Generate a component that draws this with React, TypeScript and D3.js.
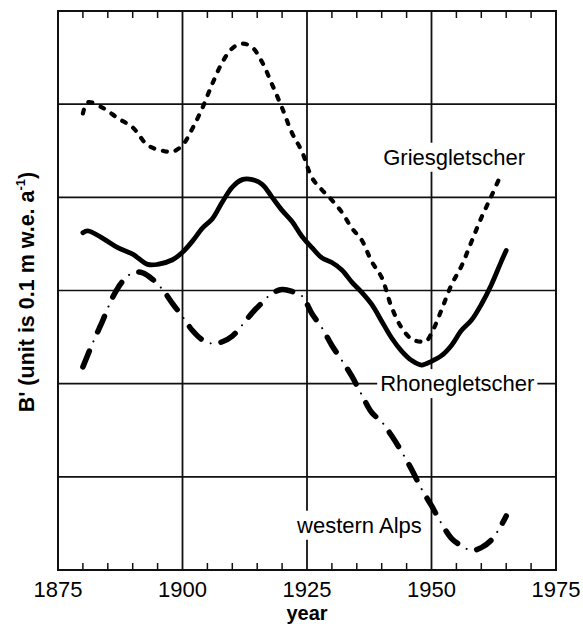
import React, { useEffect, useRef } from "react";
import * as d3 from "d3";

// values, in grid units (0 = bottom frame, each horizontal grid line = 1)
const griesYears = [
  1880, 1881, 1884, 1887, 1890, 1893, 1896, 1898, 1900, 1902, 1904, 1906, 1908, 1910,
  1912, 1914, 1916, 1918, 1920, 1922, 1924, 1926, 1928, 1930, 1932, 1934, 1936, 1938,
  1940, 1942, 1944, 1946, 1948, 1949, 1950, 1952, 1954, 1956, 1958, 1960, 1962, 1964,
];
const griesValues = [
  4.9, 5.02, 4.96, 4.85, 4.75, 4.56, 4.5, 4.49, 4.56, 4.74, 4.96, 5.22, 5.45, 5.6,
  5.65, 5.61, 5.45, 5.21, 4.96, 4.69, 4.49, 4.21, 4.08, 3.97, 3.84, 3.67, 3.54, 3.31,
  3.14, 2.82, 2.6, 2.48, 2.45, 2.46, 2.54, 2.79, 3.06, 3.26, 3.52, 3.78, 4.01, 4.25,
];

const rhoneYears = [
  1880, 1881, 1884, 1887, 1890, 1893, 1895, 1898, 1900, 1902, 1904, 1906, 1908, 1910,
  1912, 1914, 1916, 1918, 1920, 1922, 1924, 1926, 1928, 1930, 1932, 1934, 1936, 1938,
  1940, 1942, 1944, 1946, 1948, 1950, 1952, 1954, 1956, 1958, 1960, 1962, 1964, 1965,
];
const rhoneValues = [
  3.62, 3.64, 3.56, 3.46, 3.39, 3.28, 3.28, 3.33, 3.41, 3.53, 3.67, 3.77, 3.95, 4.11,
  4.19, 4.19, 4.14, 4.0, 3.86, 3.74, 3.58, 3.46, 3.35, 3.3, 3.22, 3.09, 2.98, 2.85,
  2.67, 2.49, 2.35, 2.25, 2.2, 2.24, 2.3, 2.41, 2.57, 2.68, 2.85, 3.06, 3.31, 3.43,
];

const alpsYears = [
  1880, 1882, 1884, 1886, 1888, 1890, 1892, 1894, 1896, 1898, 1900, 1902, 1904, 1906,
  1908, 1910, 1912, 1914, 1916, 1918, 1920, 1922, 1924, 1926, 1928, 1930, 1932, 1934,
  1936, 1938, 1940, 1942, 1944, 1946, 1948, 1950, 1952, 1954, 1956, 1958, 1960, 1962,
  1964, 1965,
];
const alpsValues = [
  2.18, 2.44, 2.68, 2.93, 3.1, 3.19, 3.19, 3.12, 3.01, 2.86, 2.72, 2.57, 2.47, 2.43,
  2.45, 2.51, 2.63, 2.76, 2.87, 2.97, 3.01, 2.99, 2.94, 2.75, 2.6, 2.41, 2.25, 2.08,
  1.88, 1.69, 1.59, 1.44, 1.27, 1.08, 0.87, 0.69, 0.5, 0.34, 0.26, 0.21, 0.24, 0.32,
  0.48, 0.58,
];

const xTickLabels = [1875, 1900, 1925, 1950, 1975];
const minorTicks = [1880, 1885, 1890, 1895, 1905, 1910, 1915, 1920, 1930, 1935, 1940, 1945, 1955, 1960, 1965, 1970];
const yGrid = [1, 2, 3, 4, 5];

const W = 583;
const H = 628;
const FONT = "'Liberation Sans', Arial, Helvetica, sans-serif";

const App = () => {
  const svgRef = useRef(null);

  useEffect(() => {
    const svg = d3.select(svgRef.current);
    svg.selectAll("*").remove();

    const x = d3.scaleLinear().domain([1875, 1975]).range([58, 556]);
    const y = d3.scaleLinear().domain([0, 6]).range([570, 11]);
    const [x0, x1] = x.range();
    const [y0, y1] = y.range();

    const g = svg.append("g");

    // grid
    g.selectAll("line.hgrid")
      .data(yGrid)
      .join("line")
      .attr("x1", x0)
      .attr("x2", x1)
      .attr("y1", (d) => y(d))
      .attr("y2", (d) => y(d))
      .attr("stroke", "#111")
      .attr("stroke-width", 1.6);

    g.selectAll("line.vgrid")
      .data(xTickLabels.slice(1, -1))
      .join("line")
      .attr("x1", (d) => x(d))
      .attr("x2", (d) => x(d))
      .attr("y1", y0)
      .attr("y2", y1)
      .attr("stroke", "#111")
      .attr("stroke-width", 1.8);

    // minor ticks (top and bottom, inward)
    [
      [y0, y0 - 7],
      [y1, y1 + 7],
    ].forEach(([a, b]) => {
      g.append("g")
        .selectAll("line")
        .data(minorTicks)
        .join("line")
        .attr("x1", (d) => x(d))
        .attr("x2", (d) => x(d))
        .attr("y1", a)
        .attr("y2", b)
        .attr("stroke", "#111")
        .attr("stroke-width", 1.5);
    });

    // frame
    g.append("rect")
      .attr("x", x0)
      .attr("y", y1)
      .attr("width", x1 - x0)
      .attr("height", y0 - y1)
      .attr("fill", "none")
      .attr("stroke", "#111")
      .attr("stroke-width", 2);

    const line = d3
      .line()
      .x((d) => x(d[0]))
      .y((d) => y(d[1]))
      .curve(d3.curveCatmullRom.alpha(0.5));

    const zip = (a, b) => a.map((v, i) => [v, b[i]]);

    // Griesgletscher: thick dotted
    g.append("path")
      .attr("d", line(zip(griesYears, griesValues)))
      .attr("fill", "none")
      .attr("stroke", "#000")
      .attr("stroke-width", 4.2)
      .attr("stroke-linecap", "round")
      .attr("stroke-dasharray", "4 9");

    // Rhonegletscher: solid
    g.append("path")
      .attr("d", line(zip(rhoneYears, rhoneValues)))
      .attr("fill", "none")
      .attr("stroke", "#000")
      .attr("stroke-width", 4.8)
      .attr("stroke-linejoin", "round")
      .attr("stroke-linecap", "round");

    // western Alps: long dash + small dot
    const alpsD = line(zip(alpsYears, alpsValues));
    g.append("path")
      .attr("d", alpsD)
      .attr("fill", "none")
      .attr("stroke", "#000")
      .attr("stroke-width", 5.5)
      .attr("stroke-linecap", "round")
      .attr("stroke-dasharray", "17 21");
    g.append("path")
      .attr("d", alpsD)
      .attr("fill", "none")
      .attr("stroke", "#000")
      .attr("stroke-width", 2)
      .attr("stroke-linecap", "round")
      .attr("stroke-dasharray", "0.1 37.9")
      .attr("stroke-dashoffset", 10.5);

    // curve labels with white boxes
    const labels = [
      { text: "Griesgletscher", year: 1940.3, value: 4.35 },
      { text: "Rhonegletscher", year: 1939.7, value: 1.92 },
      { text: "western Alps", year: 1923.0, value: 0.4 },
    ];
    labels.forEach((l) => {
      const lg = g.append("g");
      const r = lg.append("rect").attr("fill", "#fff");
      const t = lg
        .append("text")
        .attr("x", x(l.year))
        .attr("y", y(l.value))
        .attr("font-family", FONT)
        .attr("font-size", 22)
        .attr("fill", "#000")
        .text(l.text);
      const bb = t.node().getBBox();
      r.attr("x", bb.x - 3)
        .attr("y", bb.y - 2)
        .attr("width", bb.width + 6)
        .attr("height", bb.height + 4);
    });

    // x tick labels
    g.selectAll("text.xtick")
      .data(xTickLabels)
      .join("text")
      .attr("x", (d) => x(d))
      .attr("y", 597)
      .attr("text-anchor", "middle")
      .attr("font-family", FONT)
      .attr("font-size", 22)
      .attr("fill", "#000")
      .text((d) => d);

    // x axis title
    g.append("text")
      .attr("x", x(1925))
      .attr("y", 620)
      .attr("text-anchor", "middle")
      .attr("font-family", FONT)
      .attr("font-size", 20)
      .attr("font-weight", "bold")
      .attr("fill", "#000")
      .text("year");

    // y axis title
    const yt = g
      .append("text")
      .attr("transform", "translate(34, 292) rotate(-90)")
      .attr("text-anchor", "middle")
      .attr("font-family", FONT)
      .attr("font-size", 21.5)
      .attr("font-weight", "bold")
      .attr("fill", "#000");
    yt.append("tspan").text("B' (unit is 0.1 m w.e. a");
    yt.append("tspan").attr("font-size", 13).attr("dy", -9).text("-1");
    yt.append("tspan").attr("dy", 9).text(")");
  }, []);

  return (
    <svg
      ref={svgRef}
      width={W}
      height={H}
      style={{ position: "absolute", left: 0, top: 0, background: "#fff" }}
    ></svg>
  );
};

export default App;
